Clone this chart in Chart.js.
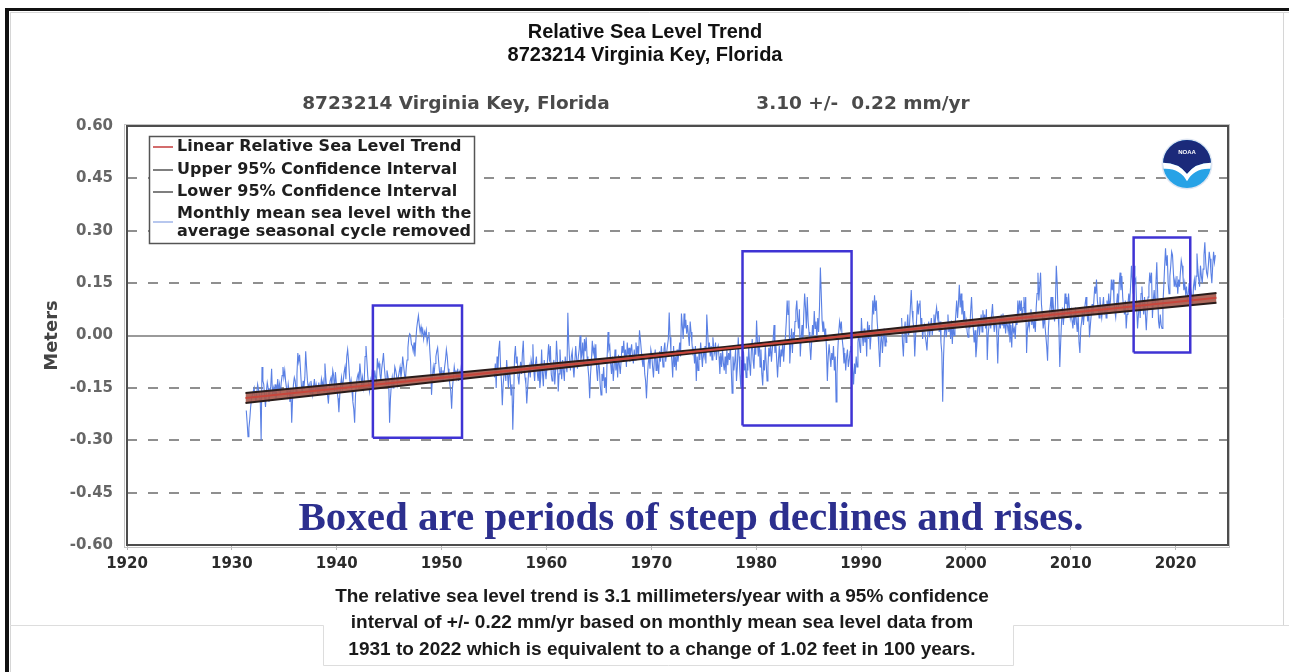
<!DOCTYPE html>
<html>
<head>
<meta charset="utf-8">
<title>Relative Sea Level Trend - 8723214 Virginia Key, Florida</title>
<script src="https://cdn.jsdelivr.net/npm/chart.js@4.4.1/dist/chart.umd.min.js"></script>
<style>
  html, body { margin: 0; padding: 0; background: #fff; }
  canvas { display: block; }
</style>
</head>
<body>
<canvas id="slr" width="1289" height="672"></canvas>
<script>
// ---- axis ticks ----
const xTickYears  = [1920, 1930, 1940, 1950, 1960, 1970, 1980, 1990, 2000, 2010, 2020];
const xTickLabels = ['1920', '1930', '1940', '1950', '1960', '1970', '1980', '1990', '2000', '2010', '2020'];
const yTickValues = [-0.60, -0.45, -0.30, -0.15, 0.00, 0.15, 0.30, 0.45, 0.60];
const yTickLabels = ['-0.60', '-0.45', '-0.30', '-0.15', '0.00', '0.15', '0.30', '0.45', '0.60'];

// ---- monthly mean sea level, seasonal cycle removed (mm), contiguous runs ----
// run 1: May 1931 - Dec 1951
const run1Start = [1931, 5];
const run1Mm = [
  -215, -250, -290, -265, -240, -205, -180, -170,
  -160, -150, -175, -190, -165, -140, -155, -170, -185, -300, -90, -130,
  -140, -175, -205, -160, -135, -150, -190, -165, -145, -95, -170, -150,
  -165, -140, -180, -155, -125, -160, -140, -170, -135, -115, -90, -120,
  -100, -130, -150, -170, -140, -160, -190, -150, -250, -180, -140, -120,
  -130, -160, -110, -50, -75, -55, -95, -140, -165, -130, -150, -120,
  -45, -90, -130, -150, -140, -165, -130, -150, -170, -145, -125, -160,
  -140, -155, -170, -135, -160, -150, -125, -145, -130, -160, -80, -120,
  -150, -170, -195, -150, -130, -120, -140, -100, -115, -160, -105, -135,
  -160, -180, -220, -170, -140, -120, -150, -130, -105, -90, -125, -60,
  -40, -70, -110, -150, -130, -160, -190, -210, -250, -170, -140, -120,
  -110, -130, -80, -110, -140, -120, -150, -130, -60, -30, -70, -115,
  -140, -160, -130, -150, -110, -125, -145, -100, -120, -135, -65, -90,
  -80, -110, -130, -95, -75, -50, -90, -120, -140, -100, -115, -130,
  -250, -180, -140, -120, -150, -130, -90, -100, -115, -140, -120, -105,
  -90, -120, -100, -60, -85, -110, -130, -95, -70, -35, -5, 5,
  0, -25, -30, -45, -20, -60, -15, 20, 40, 57, 30, 10,
  25, 5, 15, -10, 10, 0, 15, -20, -5, 10, -40, -80,
  -170, -120, -90, -110, -80, -60, -45, -35, -70, -100, -120, -90,
  -130, -100, -120, -90, -70, -40, -60, -95, -120, -140, -160, -210,
  -150, -120, -90, -110, -100, -120, -95, -130, -105, -115, -90, -110
];
// run 2: Jan 1955 - Jun 1992
const run2Start = [1955, 1];
const run2Mm = [
  -120, -80, -150, -60, -100, -40, -15, -90, -130, -200, -140, -110,
  -95, -130, -70, -110, -150, -90, -120, -170, -140, -270, -180, -60,
  -30, -80, -60, -120, -140, -100, -75, -110, -50, -15, -90, -120,
  -140, -195, -150, -110, -90, -120, -70, -85, -25, -100, -130, -80,
  -60, -105, -130, -90, -150, -120, -40, -110, -145, -70, -100, -125,
  -95, -60, -25, -75, -30, -110, -130, -90, -70, -140, -100, -15,
  -60, -160, -110, -40, -90, -125, -70, -100, -130, -60, -85, -105,
  65, -20, -70, -100, -60, -45, -90, -120, -75, -30, -65, -95,
  -60, -40, 0, -70, -55, -20, -85, -10, -45, -5, -60, -90,
  -120, -180, -110, -70, -15, -50, -35, -80, -25, -100, -130, -70,
  -90, -140, -170, -110, -130, -90, -150, -120, -165, -60, 10, -40,
  -30, -80, -110, -60, -130, -90, -40, -100, -70, -120, -55, -85,
  -110, -70, -30, -50, -15, -65, -40, -90, -20, -55, -35, -75,
  -45, -25, -60, -80, -40, -70, -20, -55, -30, -60, 15, -10,
  -40, -70, -90, -55, -110, -130, -180, -120, -80, -60, -95, -40,
  -55, -90, -120, -70, -40, -100, -60, -85, -110, -45, -75, -30,
  -60, -90, -40, -20, -75, -50, -30, -10, 66, -5, -45, -70,
  -120, -30, -90, -60, -100, -40, -75, -50, -20, -60, 63, 30,
  -10, 63, 20, 45, 5, 30, 0, -30, 40, 10, -20, -50,
  -40, -80, -30, -130, -60, -100, -40, -70, -20, -55, -90, -45,
  -60, -30, -80, 60, 10, -40, -20, -60, -30, -70, -5, -35,
  -50, -20, -70, -40, -30, -60, -110, -50, -90, -40, -80, -100,
  -60, -110, -40, -85, -50, -70, -30, -95, -165, -60, -100, -75,
  -40, -130, -90, -5, -60, -110, -150, -70, -120, -45, -100, -80,
  -120, -60, -100, -30, -80, -115, -45, -10, -70, -95, -20, -55,
  43, -20, -60, 0, -90, -40, -110, -143, -70, -100, -30, -80,
  -130, -90, -35, -60, -20, -75, -40, -10, 30, -50, -20, -70,
  -120, -70, -30, -90, -40, -60, -15, -75, -30, -5, 40, 100,
  60, 100, -80, -30, 20, -50, 10, -20, 40, 70, 100, 50,
  20, 75, -60, -10, 30, -20, 60, 120, 80, 20, 110, 40,
  10, -30, -70, -20, 30, 0, 70, 20, 40, -10, 50, 10,
  80, 195, 120, 40, 10, 30, 0, 20, -40, -130, -60, -25,
  -25, -90, -50, -70, -30, -100, -60, -190, -110, -40, 10, 40,
  20, 40, -10, -35, -80, -50, -100, -60, -40, -90, -70, -45,
  -30, -60, -100, -140, -80, -110, -60, -90, -20, 10, -30, -50,
  50, 0, -30, 20, -20, 10, -60, 40, -10, 30, -40, 0,
  30, 100, 60, 115, 70, 100, 40, 5, -40, -90, -20, 10,
  -50, -10, 20, -30, 0, -20
];
// run 3: Nov 1993 - Oct 2023
const run3Start = [1993, 11];
const run3Mm = [
  50, -20,
  -60, 10, 40, -20, 20, 60, 0, 30, 80, 130, 70, 40,
  20, -60, 0, 40, 100, 60, 90, 100, 30, 50, -10, 20,
  30, 0, -20, -43, 10, 40, -5, 20, 50, 0, 30, 60,
  20, 60, 80, 50, 70, 10, 40, -20, -50, -190, -60, 10,
  30, -5, 20, 60, 10, 40, -10, 43, -24, 30, 0, 20,
  60, 100, 50, 90, 145, 80, 120, 60, 100, 40, 70, 30,
  43, 10, -5, 40, 20, 70, 110, 50, 20, -20, 15, -62,
  -30, 20, 40, 0, 30, 60, 10, 72, 40, 60, 20, 75,
  -70, 0, 30, 50, 20, 60, 90, 40, 10, 50, 30, 0,
  -80, 10, 40, 20, 60, 30, 63, 20, 50, 6, 40, 30,
  10, 40, -20, 30, -34, 40, 10, 20, -10, 50, 30, 100,
  60, 100, 70, 100, 40, 80, 110, 60, 110, -50, 20, 40,
  20, 50, 75, 30, 60, 20, 40, 10, 80, 120, 180, 100,
  140, 180, 90, 60, 20, 50, 30, 0, -30, -72, 20, 60,
  80, 110, 60, 110, 70, 40, 90, 200, 150, 60, 20, -90,
  -20, 40, 80, 30, 60, 120, 90, 110, 60, 120, 80, 50,
  70, 43, 20, 60, 30, 80, 40, 10, 60, -20, -50, 20,
  40, 70, 30, 60, 90, 110, 70, 40, 80, -5, 30, 60,
  90, 60, 100, 140, 120, 160, 100, 80, 50, 110, 70, 50,
  80, 110, 60, 90, 50, 100, 70, 120, 80, 100, 160, 130,
  160, 100, 70, 52, 90, 120, 80, 150, 180, 130, 170, 110,
  80, 60, 100, 20, 60, 90, 120, 90, 140, 200, 160, 120,
  200, 150, 160, 80, 20, 60, 100, 50, 120, 140, 90, 60,
  110, 60, 15, 70, 110, 140, 180, 150, 180, 50, 100, 130,
  90, 150, 210, 120, 40, 20, 60, 30, 20, 90, 140, 200,
  250, 200, 230, 150, 120, 170, 200, 240, 230, 180, 140, 160,
  140, 170, 120, 160, 140, 180, 215, 200, 170, 130, 150, 120,
  140, 100, 120, 150, 110, 130, 110, 90, 140, 160, 130, 170,
  235, 190, 160, 140, 200, 170, 150, 190, 230, 267, 210, 180,
  170, 200, 240, 220, 180, 150, 200, 240, 210, 230
];

// ---- linear trend (3.10 mm/yr) and its 95% confidence bounds (m) ----
const trendYears   = [1931.3, 2023.9];
const trendLevels  = [-0.179, 0.108];
const ciYears      = [1931.3, 1977.0, 2023.9];
const upperLevels  = [-0.165, -0.033, 0.122];
const lowerLevels  = [-0.193, -0.041, 0.094];

// ---- highlighted periods ----
const boxStartYears = [1943.45, 1978.7, 2016.0];
const boxEndYears   = [1951.95, 1989.1, 2021.4];
const boxLowLevels  = [-0.293, -0.258, -0.049];
const boxHighLevels = [0.086, 0.241, 0.281];

// ---- build point lists ----
const seaLevel = [];
function addRun(start, values) {
  const [yr, mo] = start;
  values.forEach((mm, i) => {
    seaLevel.push({ x: yr + (mo - 1 + i + 0.5) / 12, y: mm / 1000 });
  });
  const last = seaLevel[seaLevel.length - 1].x;
  seaLevel.push({ x: last + 0.05, y: null });   // break the line between runs
}
addRun(run1Start, run1Mm);
addRun(run2Start, run2Mm);
addRun(run3Start, run3Mm);

const trendPts = trendYears.map((x, i) => ({ x, y: trendLevels[i] }));
const upperPts = ciYears.map((x, i) => ({ x, y: upperLevels[i] }));
const lowerPts = ciYears.map((x, i) => ({ x, y: lowerLevels[i] }));

const boxPts = [];
boxStartYears.forEach((x0, i) => {
  const x1 = boxEndYears[i], y0 = boxLowLevels[i], y1 = boxHighLevels[i];
  boxPts.push({ x: x0, y: y0 }, { x: x0, y: y1 }, { x: x1, y: y1 },
              { x: x1, y: y0 }, { x: x0, y: y0 }, { x: x0 + 0.01, y: null });
});

// ---- page decorations, grid, legend and captions ----
const SANS = '"Liberation Sans", Arial, sans-serif';
const DEJA = '"DejaVu Sans", Verdana, sans-serif';
const SERIF = '"Liberation Serif", "Times New Roman", serif';

function drawNoaaLogo(ctx, cx, cy, r) {
  ctx.save();
  ctx.beginPath();
  ctx.arc(cx, cy, r + 1.5, 0, Math.PI * 2);
  ctx.fillStyle = '#dfe6f2';
  ctx.fill();
  ctx.beginPath();
  ctx.arc(cx, cy, r, 0, Math.PI * 2);
  ctx.fillStyle = '#27a2e6';
  ctx.fill();
  ctx.clip();
  // navy sky
  ctx.beginPath();
  ctx.moveTo(cx - r, cy - r);
  ctx.lineTo(cx + r, cy - r);
  ctx.lineTo(cx + r, cy - r * 0.05);
  ctx.quadraticCurveTo(cx + r * 0.35, cy - r * 0.05, cx, cy + r * 0.42);
  ctx.quadraticCurveTo(cx - r * 0.35, cy - r * 0.05, cx - r, cy - r * 0.05);
  ctx.closePath();
  ctx.fillStyle = '#1b2a7a';
  ctx.fill();
  // white gull
  ctx.beginPath();
  ctx.moveTo(cx - r, cy - r * 0.05);
  ctx.quadraticCurveTo(cx - r * 0.35, cy - r * 0.05, cx, cy + r * 0.42);
  ctx.quadraticCurveTo(cx + r * 0.35, cy - r * 0.05, cx + r, cy - r * 0.05);
  ctx.lineTo(cx + r, cy + r * 0.2);
  ctx.quadraticCurveTo(cx + r * 0.3, cy + r * 0.15, cx, cy + r * 0.72);
  ctx.quadraticCurveTo(cx - r * 0.3, cy + r * 0.15, cx - r, cy + r * 0.2);
  ctx.closePath();
  ctx.fillStyle = '#ffffff';
  ctx.fill();
  ctx.restore();
  ctx.save();
  ctx.fillStyle = '#ffffff';
  ctx.font = 'bold 6px ' + SANS;
  ctx.textAlign = 'center';
  ctx.textBaseline = 'middle';
  ctx.fillText('NOAA', cx, cy - r * 0.5);
  ctx.restore();
}

const pagePlugin = {
  id: 'pageDecor',
  beforeDraw(chart) {
    const ctx = chart.ctx;
    const W = chart.width, H = chart.height;
    ctx.save();
    ctx.fillStyle = '#ffffff';
    ctx.fillRect(0, 0, W, H);

    // outer frame
    ctx.fillStyle = '#111111';
    ctx.fillRect(5, 8, W - 5, 3);
    ctx.fillRect(5, 8, 4, H - 8);
    ctx.strokeStyle = '#d6d6d6';
    ctx.lineWidth = 1;
    ctx.beginPath();
    ctx.moveTo(10.5, 12); ctx.lineTo(10.5, H);
    ctx.moveTo(10, 12.5); ctx.lineTo(W, 12.5);
    ctx.moveTo(1283.5, 12); ctx.lineTo(1283.5, 625);
    ctx.stroke();
    // lower panel with the caption tab
    ctx.strokeStyle = '#dddddd';
    ctx.beginPath();
    ctx.moveTo(10, 625.5); ctx.lineTo(323.5, 625.5); ctx.lineTo(323.5, 665.5);
    ctx.lineTo(1013.5, 665.5); ctx.lineTo(1013.5, 625.5); ctx.lineTo(W, 625.5);
    ctx.stroke();

    // titles
    ctx.fillStyle = '#111111';
    ctx.textAlign = 'center';
    ctx.textBaseline = 'middle';
    ctx.font = 'bold 20px ' + SANS;
    ctx.fillText('Relative Sea Level Trend', 645, 32);
    ctx.fillText('8723214 Virginia Key, Florida', 645, 55);

    ctx.fillStyle = '#4a4a4a';
    ctx.font = 'bold 18.5px ' + DEJA;
    ctx.fillText('8723214 Virginia Key, Florida', 456, 104);
    ctx.fillText('3.10 +/-  0.22 mm/yr', 863, 104);

    // footnote
    ctx.fillStyle = '#1a1a1a';
    ctx.font = 'bold 19px ' + SANS;
    ctx.fillText('The relative sea level trend is 3.1 millimeters/year with a 95% confidence', 662, 597);
    ctx.fillText('interval of +/- 0.22 mm/yr based on monthly mean sea level data from', 662, 623);
    ctx.fillText('1931 to 2022 which is equivalent to a change of 1.02 feet in 100 years.', 662, 650);
    ctx.restore();
  },
  beforeDatasetsDraw(chart) {
    const ctx = chart.ctx, a = chart.chartArea, ys = chart.scales.y;
    ctx.save();
    yTickValues.forEach(v => {
      if (v === yTickValues[0] || v === yTickValues[yTickValues.length - 1]) return;
      const py = Math.round(ys.getPixelForValue(v));
      ctx.beginPath();
      if (v === 0) {
        ctx.setLineDash([]);
        ctx.strokeStyle = '#9a9a9a';
      } else {
        ctx.setLineDash([10, 11]);
        ctx.strokeStyle = '#8f8f8f';
      }
      ctx.lineWidth = 2;
      ctx.moveTo(a.left, py);
      ctx.lineTo(a.right, py);
      ctx.stroke();
    });
    ctx.restore();
  },
  afterDatasetsDraw(chart) {
    const ctx = chart.ctx, a = chart.chartArea;
    const ds = chart.data.datasets;
    ctx.save();

    // plot frame
    ctx.strokeStyle = '#c4c4c4';
    ctx.lineWidth = 1;
    ctx.strokeRect(a.left - 2.5, a.top - 1.5, a.right - a.left + 4, a.bottom - a.top + 4);
    ctx.strokeStyle = '#4d4d4d';
    ctx.lineWidth = 2;
    ctx.strokeRect(a.left, a.top, a.right - a.left, a.bottom - a.top);

    // legend
    ctx.fillStyle = '#ffffff';
    ctx.fillRect(149, 136, 326, 108);
    ctx.strokeStyle = '#555555';
    ctx.lineWidth = 1.5;
    ctx.strokeRect(149.5, 136.5, 325, 107);
    const rows = [
      { ds: 1, lines: ['Linear Relative Sea Level Trend'], sy: 147, ty: [147] },
      { ds: 2, lines: ['Upper 95% Confidence Interval'], sy: 170, ty: [170] },
      { ds: 3, lines: ['Lower 95% Confidence Interval'], sy: 192, ty: [192] },
      { ds: 4, lines: ['Monthly mean sea level with the', 'average seasonal cycle removed'], sy: 222, ty: [214, 232] }
    ];
    ctx.font = 'bold 16px ' + DEJA;
    ctx.textAlign = 'left';
    ctx.textBaseline = 'middle';
    rows.forEach(r => {
      ctx.strokeStyle = ds[r.ds].legendColor || ds[r.ds].borderColor;
      ctx.lineWidth = 1.5;
      ctx.beginPath();
      ctx.moveTo(153, r.sy);
      ctx.lineTo(173, r.sy);
      ctx.stroke();
      ctx.fillStyle = '#1e1e1e';
      r.lines.forEach((t, k) => ctx.fillText(t, 177, r.ty[k]));
    });

    drawNoaaLogo(ctx, 1187, 164, 24);

    // caption inside the plot
    ctx.fillStyle = '#2c2f8e';
    ctx.font = 'bold 41px ' + SERIF;
    ctx.textAlign = 'center';
    ctx.textBaseline = 'alphabetic';
    ctx.fillText('Boxed are periods of steep declines and rises.', 691, 530);
    ctx.restore();
  }
};

new Chart(document.getElementById('slr').getContext('2d'), {
  type: 'line',
  data: {
    datasets: [
      { label: 'Boxed periods', data: boxPts, borderColor: '#3f33d4', borderWidth: 2.5,
        pointRadius: 0, fill: false, spanGaps: false, order: 0 },
      { label: 'Linear Relative Sea Level Trend', data: trendPts, borderColor: '#c8463c',
        legendColor: '#c43b3b', borderWidth: 2, pointRadius: 0, fill: false, order: 1 },
      { label: 'Upper 95% Confidence Interval', data: upperPts, borderColor: '#2a1c1a',
        legendColor: '#555555', borderWidth: 2, pointRadius: 0, fill: false, order: 2 },
      { label: 'Lower 95% Confidence Interval', data: lowerPts, borderColor: '#2a1c1a',
        legendColor: '#555555', borderWidth: 2, pointRadius: 0,
        fill: { target: 2 }, backgroundColor: 'rgba(165, 88, 74, 0.9)', order: 3 },
      { label: 'Monthly mean sea level with the average seasonal cycle removed', data: seaLevel,
        borderColor: '#5a80e4', legendColor: '#9fb4e8', borderWidth: 1.1, pointRadius: 0,
        fill: false, spanGaps: false, order: 4 }
    ]
  },
  options: {
    responsive: false,
    animation: false,
    devicePixelRatio: 1,
    layout: { padding: { top: 126, right: 61, bottom: 97, left: 0 } },
    elements: { line: { tension: 0 }, point: { radius: 0 } },
    plugins: { legend: { display: false }, title: { display: false }, tooltip: { enabled: false } },
    scales: {
      x: {
        type: 'linear', min: 1920, max: 2025,
        afterFit(s) { s.height = 30; },
        afterBuildTicks(s) { s.ticks = xTickYears.map(v => ({ value: v })); },
        grid: { drawOnChartArea: false, drawTicks: true, tickLength: 5, tickColor: '#b5b5b5', tickWidth: 1 },
        border: { display: false },
        ticks: {
          autoSkip: false, maxRotation: 0, padding: 5, color: '#2b2b2b',
          font: { family: DEJA, size: 15, weight: 'bold' },
          callback: (v, i) => xTickLabels[i]
        }
      },
      y: {
        type: 'linear', min: -0.6, max: 0.6,
        afterFit(s) { s.width = 127; },
        afterBuildTicks(s) { s.ticks = yTickValues.map(v => ({ value: v })); },
        grid: { drawOnChartArea: false, drawTicks: false },
        border: { display: false },
        ticks: {
          padding: 14, color: '#666666',
          font: { family: DEJA, size: 15, weight: 'bold' },
          callback: (v, i) => yTickLabels[i]
        },
        title: {
          display: true, text: 'Meters', color: '#444444',
          font: { family: DEJA, size: 18, weight: 'bold' },
          padding: { top: 42, bottom: 0 }
        }
      }
    }
  },
  plugins: [pagePlugin]
});
</script>
</body>
</html>
